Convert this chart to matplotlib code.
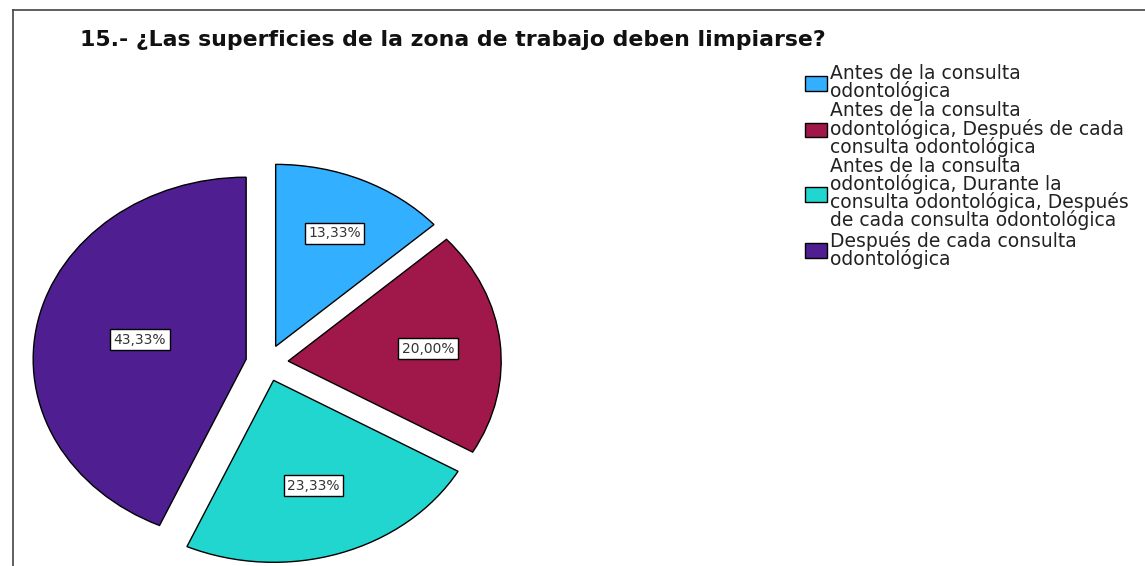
import matplotlib
matplotlib.use("Agg")
import matplotlib.pyplot as plt
from matplotlib.lines import Line2D
import numpy as np

title = "15.- ¿Las superficies de la zona de trabajo deben limpiarse?"
categories = [
    "Antes de la consulta\nodontológica",
    "Antes de la consulta\nodontológica, Después de cada\nconsulta odontológica",
    "Antes de la consulta\nodontológica, Durante la\nconsulta odontológica, Después\nde cada consulta odontológica",
    "Después de cada consulta\nodontológica",
]
counts = [4, 6, 7, 13]
colors = ["#33AFFF", "#A0174A", "#22D6D0", "#4F1F91"]

W, H = 1145, 566
fig = plt.figure(figsize=(W / 100, H / 100), dpi=100)

# pie axes: centre (267, 363) px, radii 213 x 182 px
cx, cy, rx, ry = 267, 363, 213, 182
lim = 1.2
left = (cx - rx * lim) / W
width = 2 * rx * lim / W
bottom = (H - (cy + ry * lim)) / H
height = 2 * ry * lim / H
ax = fig.add_axes([left, bottom, width, height])

def fmt(p):
    return f"{p:.2f}%".replace(".", ",")

wedges, texts, autotexts = ax.pie(
    counts, colors=colors, startangle=90, counterclock=False,
    explode=[0.1] * len(counts), autopct=fmt, pctdistance=0.65,
    wedgeprops=dict(edgecolor="black", linewidth=1.0),
    textprops=dict(fontsize=10, family="DejaVu Sans", color="#333333"),
)
ax.set_aspect("auto")
ax.set_xlim(-lim, lim)
ax.set_ylim(-lim, lim)
ax.axis("off")

# label radii per slice (relative to slice apex)
label_r = [0.68, 0.66, 0.61, 0.51]
for w, t, r in zip(wedges, autotexts, label_r):
    ang = np.deg2rad((w.theta1 + w.theta2) / 2)
    c = w.center
    t.set_position((c[0] + r * np.cos(ang), c[1] + r * np.sin(ang)))
    t.set_bbox(dict(boxstyle="square,pad=0.25", facecolor="white",
                    edgecolor="black", linewidth=1.0))

fig.text(80 / W, 1 - 40 / H, title, fontsize=15.8, fontweight="bold",
         family="DejaVu Sans", va="center", ha="left", color="#111111")

leg = fig.legend(wedges, categories, loc="upper left",
                 bbox_to_anchor=(805 / W, 1 - 64 / H), frameon=False,
                 prop=dict(family="DejaVu Sans", size=13.5),
                 handlelength=1.15, handleheight=0.8, handletextpad=0.2,
                 labelspacing=0.02, borderaxespad=0, borderpad=0)
for t in leg.get_texts():
    t.set_linespacing(0.88)
    t.set_color("#222222")

# frame lines
fig.add_artist(Line2D([12.5 / W, 1], [1 - 10 / H, 1 - 10 / H],
                      transform=fig.transFigure, color="#444444", lw=1.2))
fig.add_artist(Line2D([12.5 / W, 12.5 / W], [0, 1 - 10 / H],
                      transform=fig.transFigure, color="#444444", lw=1.2))

fig.savefig("out.png", dpi=100, facecolor="white")
